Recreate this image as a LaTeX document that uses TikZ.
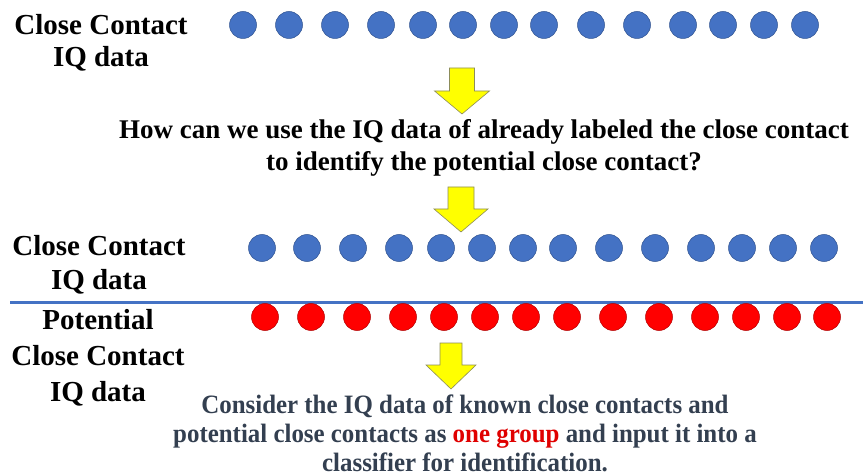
\documentclass[tikz,border=0pt]{standalone}
\usepackage{fontspec}
\setmainfont{Liberation Serif}
\newfontfamily\narrowserif[FakeStretch=0.94]{Liberation Serif}

\definecolor{ccblue}{HTML}{4472C4}
\definecolor{ccblueedge}{HTML}{2F528F}
\definecolor{pcred}{HTML}{FF0000}
\definecolor{pcrededge}{HTML}{B00000}
\definecolor{arrowfill}{HTML}{FFFF00}
\definecolor{arrowedge}{HTML}{8C8C5A}
\definecolor{notetext}{HTML}{333F50}
\definecolor{notered}{HTML}{E00000}

\tikzset{
  bluedot/.style={circle, minimum size=27pt, inner sep=0pt, fill=ccblue, draw=ccblueedge, line width=0.5pt},
  reddot/.style={circle, minimum size=27pt, inner sep=0pt, fill=pcred, draw=pcrededge, line width=0.5pt},
  % multi-line nodes: the base anchor sits on the last line
  sidelabel/.style={font=\bfseries\fontsize{29}{33}\selectfont, align=center, inner sep=0pt, anchor=base},
  question/.style={font=\bfseries\fontsize{27}{32}\selectfont, align=center, inner sep=0pt, anchor=base},
  note/.style={font=\narrowserif\bfseries\fontsize{26.5}{29}\selectfont, text=notetext, align=center, inner sep=0pt, anchor=base},
  sepline/.style={draw=ccblue, line width=3pt},
  blockarrow/.style={fill=arrowfill, draw=arrowedge, line width=0.6pt, line join=miter},
  pics/downarrow/.style n args={4}{code={
    \draw[blockarrow] (-#1,0) -- (#1,0) -- (#1,#2) -- (#3,#2) -- (0,#2+#4)
      -- (-#3,#2) -- (-#1,#2) -- cycle;
  }}
}

\begin{document}
\begin{tikzpicture}[x=1pt, y=-1pt]
\useasboundingbox (0,0) rectangle (863,476);
\fill[white] (0,0) rectangle (863,476);

% first row: labelled close contacts
\node[sidelabel, font=\bfseries\fontsize{29}{32}\selectfont] (cc1) at (101,67) {Close Contact\\IQ data};
\foreach \x [count=\i] in {243,289,335,381,423,463,504,544,591,637,683,723,764,805}
  \node[bluedot] (top\i) at (\x,25) {};

\pic at (462,68) {downarrow={12.5}{23}{27.5}{23}};

% the question
\node[question] (q) at (484,171)
  {How can we use the IQ data of already labeled the close contact\\
   to identify the potential close contact?};

\pic at (461,187) {downarrow={13}{22}{27}{23}};

% second row: known close contacts
\node[sidelabel, font=\bfseries\fontsize{29}{34}\selectfont] (cc2) at (99,289) {Close Contact\\IQ data};
\foreach \x [count=\i] in {262,307,353,399,441,482,523,563,609,655,701,742,783,824}
  \node[bluedot] (mid\i) at (\x,248) {};

% separator
\coordinate (sepL) at (10,302);
\coordinate (sepR) at (863,302);
\draw[sepline] (sepL) -- (sepR);

% third row: potential close contacts
\node[sidelabel, font=\bfseries\fontsize{29}{36}\selectfont] (pc) at (98,401)
  {Potential\\Close Contact\\IQ data};
\foreach \x [count=\i] in {265,311,357,403,444,485,526,567,613,659,705,746,787,827}
  \node[reddot] (bot\i) at (\x,317) {};

\pic at (451,343) {downarrow={11}{22}{25}{24}};

% conclusion
\node[note] (n) at (465,471)
  {Consider the IQ data of known close contacts and\\
   potential close contacts as {\color{notered}one group} and input it into a\\
   classifier for identification.};
\end{tikzpicture}
\end{document}
